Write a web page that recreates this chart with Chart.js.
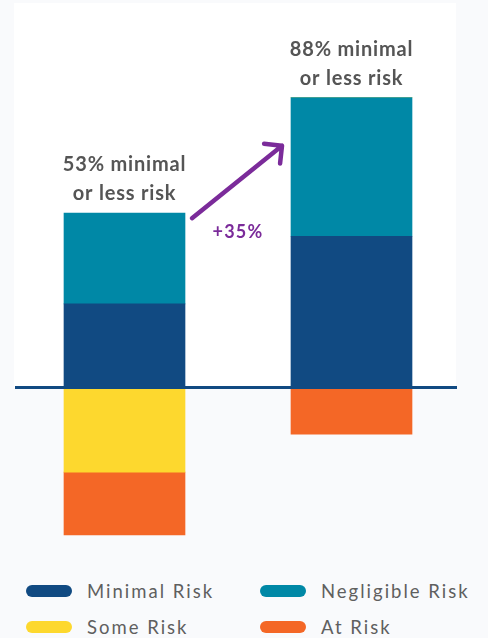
<!DOCTYPE html>
<html lang="en">
<head>
<meta charset="utf-8">
<title>Risk levels</title>
<script src="https://cdn.jsdelivr.net/npm/chart.js@4.4.1/dist/chart.umd.min.js"></script>
<style>
  html, body { margin: 0; padding: 0; background: #f9fafc; }
  body { width: 488px; height: 638px; position: relative; overflow: hidden; font-family: Lato, 'Open Sans', sans-serif; }
  .chart-wrap { position: absolute; left: 0; top: 0; width: 488px; height: 560px; }
  #legend {
    position: absolute; left: 26px; top: 573px;
    display: grid; grid-template-columns: 234px auto; grid-auto-rows: 36px;
  }
  .legend-item { display: flex; align-items: center; color: #5f5f5f; font-size: 18.5px; letter-spacing: 2px; }
  .swatch { width: 46px; height: 12px; border-radius: 6px; margin-right: 15px; flex: none; }
</style>
</head>
<body>
<div class="chart-wrap"><canvas id="risk-chart"></canvas></div>
<div id="legend"></div>

<script>
/* ─── Data ───────────────────────────────────────────────────────────────── */
const CATEGORIES = ['Before', 'After'];
const MINIMAL    = [25.5, 46];
const NEGLIGIBLE = [27.5, 42];
const SOME       = [-25.5, 0];
const AT_RISK    = [-19, -14];

const SERIES_LABELS = ['Minimal Risk', 'Negligible Risk', 'Some Risk', 'At Risk'];
const SERIES_COLORS = ['#114a82', '#0088a6', '#fdd82e', '#f46726'];

const Y_MIN = -49.7;
const Y_MAX = 116.7;

const PURPLE = '#7b2b9a';
const LABEL_GREY = '#555555';

/* ─── Decorations: panel, zero line, callouts, arrow ─────────────────────── */
const riskDecor = {
  id: 'riskDecor',
  beforeDatasetsDraw(chart) {
    const { ctx, chartArea: a, scales: { y } } = chart;
    const zero = y.getPixelForValue(0);
    ctx.save();
    ctx.fillStyle = '#ffffff';
    ctx.fillRect(a.left + 3, a.top, a.right - a.left - 12, zero - a.top);
    ctx.restore();
  },
  afterDatasetsDraw(chart) {
    const { ctx, chartArea: a, scales: { y } } = chart;
    const zero = y.getPixelForValue(0);

    /* ── zero line ── */
    ctx.save();
    ctx.strokeStyle = SERIES_COLORS[0];
    ctx.lineWidth = 3;
    ctx.beginPath();
    ctx.moveTo(a.left + 4, zero - 0.5);
    ctx.lineTo(a.right - 8, zero - 0.5);
    ctx.stroke();

    /* ── "xx% minimal or less risk" above each bar ── */
    const tops = chart.getDatasetMeta(1).data;
    const totals = MINIMAL.map((v, i) => v + NEGLIGIBLE[i]);
    ctx.fillStyle = LABEL_GREY;
    ctx.font = 'bold 20px Lato, sans-serif';
    ctx.textAlign = 'center';
    ctx.textBaseline = 'alphabetic';
    ctx.letterSpacing = '0.8px';
    tops.forEach((bar, i) => {
      ctx.fillText(`${totals[i]}% minimal`, bar.x, bar.y - 42);
      ctx.fillText('or less risk', bar.x, bar.y - 13);
    });

    /* ── arrow between the two bars ── */
    const l = tops[0], r = tops[1];
    const x0 = l.x + l.width / 2 + 7, y0 = l.y + 5;
    const x1 = r.x - r.width / 2 - 9, y1 = r.y + 48;
    const ang = Math.atan2(y1 - y0, x1 - x0);
    const head = 18;
    ctx.strokeStyle = PURPLE;
    ctx.lineWidth = 4.5;
    ctx.lineCap = 'round';
    ctx.lineJoin = 'round';
    ctx.beginPath();
    ctx.moveTo(x0, y0);
    ctx.lineTo(x1, y1);
    ctx.moveTo(x1 + head * Math.cos(ang + Math.PI - Math.PI / 4), y1 + head * Math.sin(ang + Math.PI - Math.PI / 4));
    ctx.lineTo(x1, y1);
    ctx.lineTo(x1 + head * Math.cos(ang + Math.PI + Math.PI / 4), y1 + head * Math.sin(ang + Math.PI + Math.PI / 4));
    ctx.stroke();

    ctx.fillStyle = PURPLE;
    ctx.font = 'bold 18px Lato, sans-serif';
    ctx.letterSpacing = '1.2px';
    const midX = (l.x + l.width / 2 + r.x - r.width / 2) / 2;
    ctx.fillText(`+${totals[1] - totals[0]}%`, midX, l.y + 25);
    ctx.restore();
  }
};

/* ─── Chart ──────────────────────────────────────────────────────────────── */
const seriesData = [MINIMAL, NEGLIGIBLE, SOME, AT_RISK];

const chart = new Chart(document.getElementById('risk-chart'), {
  type: 'bar',
  data: {
    labels: CATEGORIES,
    datasets: seriesData.map((d, i) => ({
      label:           SERIES_LABELS[i],
      data:            d,
      backgroundColor: SERIES_COLORS[i],
      borderWidth:     0,
      barThickness:    121
    }))
  },
  options: {
    responsive: true,
    maintainAspectRatio: false,
    animation: false,
    layout: { padding: { top: 3, bottom: 8, left: 11, right: 23 } },
    plugins: {
      legend:  { display: false },
      tooltip: { enabled: false }
    },
    scales: {
      x: { stacked: true, display: false },
      y: { stacked: true, display: false, min: Y_MIN, max: Y_MAX }
    }
  },
  plugins: [riskDecor]
});

/* ─── HTML legend ────────────────────────────────────────────────────────── */
document.getElementById('legend').innerHTML = chart.data.datasets.map(ds =>
  `<div class="legend-item"><span class="swatch" style="background:${ds.backgroundColor}"></span>${ds.label}</div>`
).join('');
</script>
</body>
</html>
